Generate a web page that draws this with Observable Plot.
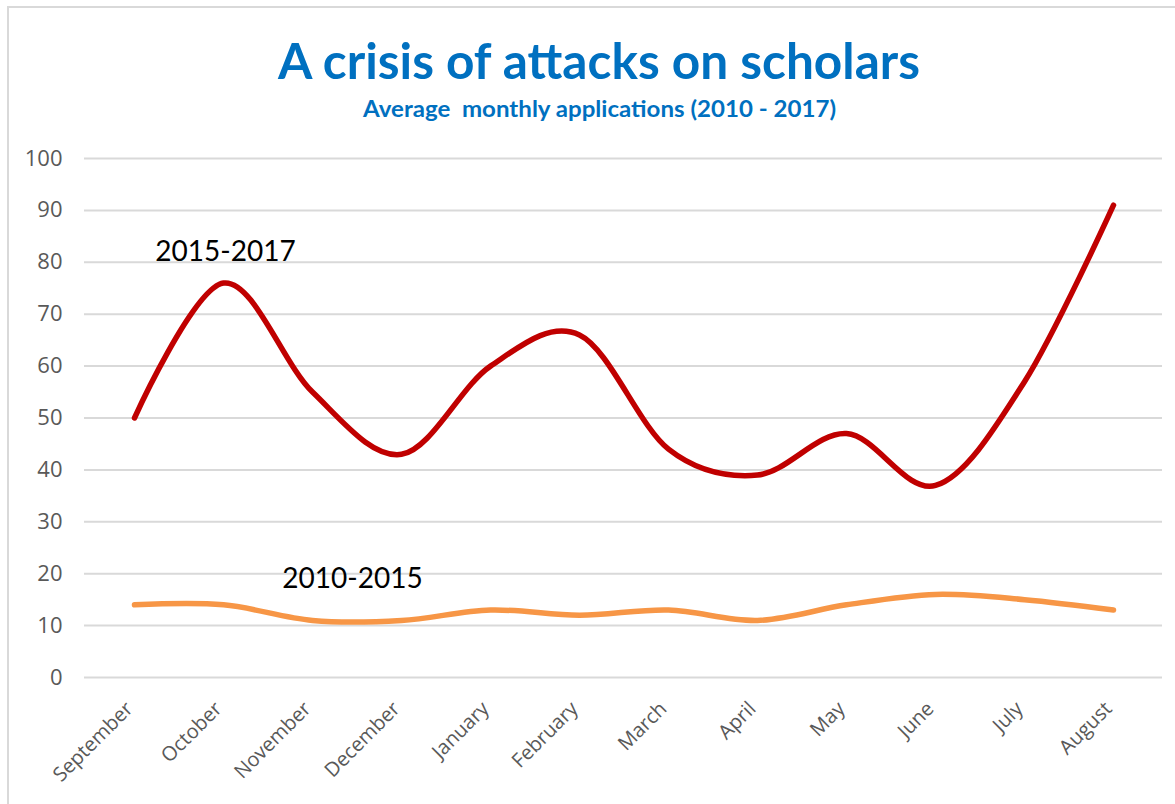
<!DOCTYPE html>
<html>
<head>
<meta charset="utf-8">
<script src="https://cdn.jsdelivr.net/npm/d3@7"></script>
<script src="https://cdn.jsdelivr.net/npm/@observablehq/plot@0.6"></script>
<style>
  html, body { margin: 0; padding: 0; background: #fff; overflow: hidden; }
  #wrap { position: relative; width: 1175px; height: 804px; overflow: hidden; }
  #frame { position: absolute; left: 7px; top: 6px; width: 1200px; height: 900px;
           border-left: 2px solid #d9d9d9; border-top: 2px solid #d9d9d9; }
  #chart { position: absolute; left: 0; top: 0; }
  .ttl { position: absolute; left: 0; white-space: nowrap; color: #0070C0; font-weight: bold;
         font-family: Lato, "Open Sans", sans-serif; transform-origin: 0 0; }
</style>
</head>
<body>
<div id="wrap">
  <div id="frame"></div>
  <div id="chart"></div>
  <div id="title" class="ttl" style="font-size:50px;">A crisis of attacks on scholars</div>
  <div id="subtitle" class="ttl" style="font-size:22px;">Average&nbsp;&nbsp;monthly applications (2010 - 2017)</div>
</div>
<script>
const months = ["September","October","November","December","January","February","March","April","May","June","July","August"];
const recent = [50, 76, 55, 43, 60, 66, 44, 39, 47, 37, 57, 91];   // 2015-2017
const earlier = [14, 14, 11, 11, 13, 12, 13, 11, 14, 16, 15, 13];  // 2010-2015
const seriesNames = ["2015-2017", "2010-2015"];
const seriesColors = ["#C00000", "#F79646"];
const yTicks = [0, 10, 20, 30, 40, 50, 60, 70, 80, 90, 100];
const labelAnchors = [
  {series: "2015-2017", month: "October", value: 82, dx: 2},
  {series: "2010-2015", month: "November", value: 19, dx: 40}
];

const data = [
  ...months.map((m, i) => ({month: m, value: recent[i], series: seriesNames[0]})),
  ...months.map((m, i) => ({month: m, value: earlier[i], series: seriesNames[1]}))
];

const chart = Plot.plot({
  width: 1175,
  height: 804,
  marginTop: 158,
  marginBottom: 127,
  marginLeft: 84,
  marginRight: 13,
  style: {fontFamily: "'Open Sans', sans-serif", fontSize: "20px", color: "#595959", background: "transparent"},
  x: {type: "point", domain: months, padding: 0.5, label: null},
  y: {domain: [0, 100], label: null},
  color: {domain: seriesNames, range: seriesColors},
  marks: [
    Plot.gridY(yTicks, {stroke: "#d9d9d9", strokeOpacity: 1, strokeWidth: 2}),
    Plot.axisY(yTicks, {tickSize: 0, tickPadding: 22, fill: "#595959", fontSize: 22}),
    Plot.axisX({tickSize: 0, tickRotate: -45, tickPadding: 14, dx: -5, dy: 14, fill: "#595959", fontSize: 20}),
    Plot.line(data, {x: "month", y: "value", z: "series", stroke: "series", strokeWidth: 5.5,
      curve: "cardinal", strokeLinecap: "round", strokeLinejoin: "round"}),
    Plot.text(labelAnchors, {x: "month", y: "value", text: "series", fill: "black",
      fontSize: 28, fontFamily: "Lato, 'Open Sans', sans-serif"})
  ]
});
document.getElementById("chart").append(chart);
// per-label horizontal offsets
const texts = chart.querySelectorAll("g[aria-label='text'] text");
texts.forEach((t, i) => {
  const cur = t.getAttribute("transform") || "";
  t.setAttribute("transform", cur + ` translate(${labelAnchors[i].dx},0)`);
});

function fit(id, targetWidth, centerX, topY) {
  const el = document.getElementById(id);
  const w = el.getBoundingClientRect().width;
  const s = targetWidth / w;
  el.style.transform = `scaleX(${s})`;
  el.style.left = (centerX - targetWidth / 2) + "px";
  el.style.top = topY + "px";
}
fit("title", 642, 599, 30);
fit("subtitle", 473, 599, 95);
</script>
</body>
</html>
